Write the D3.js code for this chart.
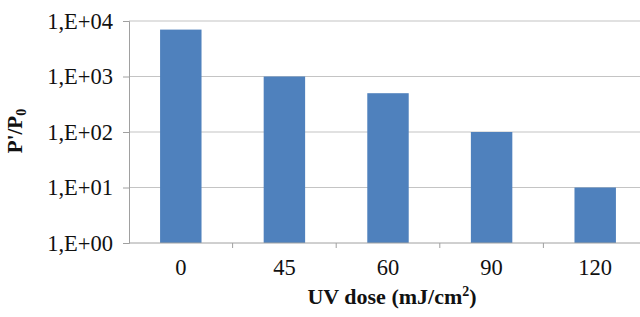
<!DOCTYPE html>
<html>
<head>
<meta charset="utf-8">
<script src="https://cdn.jsdelivr.net/npm/d3@7"></script>
<style>
  body { margin: 0; background: #fff; }
</style>
</head>
<body>
<script>
// data
const doses = ["0", "45", "60", "90", "120"];
const ratios = [7000, 1000, 500, 100, 10];
const yTicks = [1, 10, 100, 1000, 10000];
const yTickLabels = ["1,E+00", "1,E+01", "1,E+02", "1,E+03", "1,E+04"];

const width = 640;
const height = 317;
const marginTop = 21;
const marginLeft = 129;
const plotBottom = 243;
const plotRight = 647;
const serif = "Liberation Serif";

const svg = d3.select("body").append("svg")
    .attr("width", width)
    .attr("height", height)
    .attr("viewBox", [0, 0, width, height]);

const x = d3.scaleBand(doses, [marginLeft, plotRight]).paddingInner(0.6).paddingOuter(0.3);
const xEdges = d3.scaleBand(doses, [marginLeft, plotRight]);
const y = d3.scaleLog([1, 10000], [plotBottom, marginTop]);

// gridlines
svg.append("g")
    .selectAll("line")
    .data(yTicks.slice(1))
    .join("line")
    .attr("x1", marginLeft)
    .attr("x2", width)
    .attr("y1", d => y(d))
    .attr("y2", d => y(d))
    .attr("stroke", "#c4c4c4")
    .attr("stroke-width", 1.2);

// bars
svg.append("g")
    .attr("fill", "#4f81bd")
    .selectAll("rect")
    .data(doses)
    .join("rect")
    .attr("x", (d) => x(d))
    .attr("width", x.bandwidth())
    .attr("y", (d, i) => y(ratios[i]))
    .attr("height", (d, i) => y(1) - y(ratios[i]));

// y axis
svg.append("g")
    .attr("transform", `translate(${marginLeft},0)`)
    .call(d3.axisLeft(y).tickValues(yTicks).tickFormat((d, i) => yTickLabels[i]).tickSizeOuter(0).tickSize(6).tickPadding(10))
    .attr("font-family", serif)
    .call(g => g.select(".domain").attr("stroke", "#a0a0a0"))
    .call(g => g.selectAll(".tick line").attr("stroke", "#a0a0a0"))
    .call(g => g.selectAll("text")
        .attr("fill", "#111")
        .style("font-family", serif)
        .attr("font-size", 22.5));

// x axis
svg.append("g")
    .attr("transform", `translate(0,${plotBottom})`)
    .call(g => g.append("line")
        .attr("x1", marginLeft).attr("x2", width)
        .attr("stroke", "#a0a0a0"))
    .call(g => g.selectAll(".edge")
        .data(doses.slice(1))
        .join("line")
        .attr("class", "edge")
        .attr("x1", d => xEdges(d)).attr("x2", d => xEdges(d))
        .attr("y1", 0).attr("y2", 5)
        .attr("stroke", "#a0a0a0"))
    .call(g => g.selectAll(".lab")
        .data(doses)
        .join("text")
        .attr("class", "lab")
        .attr("x", d => x(d) + x.bandwidth() / 2)
        .attr("y", 32)
        .attr("text-anchor", "middle")
        .style("font-family", serif)
        .attr("font-size", 22.5)
        .attr("fill", "#111")
        .text(d => d));

// axis titles
const xt = svg.append("text")
    .attr("x", 392)
    .attr("y", 304)
    .attr("text-anchor", "middle")
    .style("font-family", serif)
    .attr("font-size", 22)
    .attr("font-weight", "bold")
    .attr("fill", "#111");
xt.append("tspan").text("UV dose (mJ/cm");
xt.append("tspan").attr("font-size", 14).attr("dy", -8).text("2");
xt.append("tspan").attr("dy", 8).text(")");

const yt = svg.append("text")
    .attr("transform", "translate(22,131) rotate(-90)")
    .attr("text-anchor", "middle")
    .style("font-family", serif)
    .attr("font-size", 21)
    .attr("font-weight", "bold")
    .attr("fill", "#111");
yt.append("tspan").text("P'/P");
yt.append("tspan").attr("font-size", 14).attr("dy", 4).text("0");
</script>
</body>
</html>
